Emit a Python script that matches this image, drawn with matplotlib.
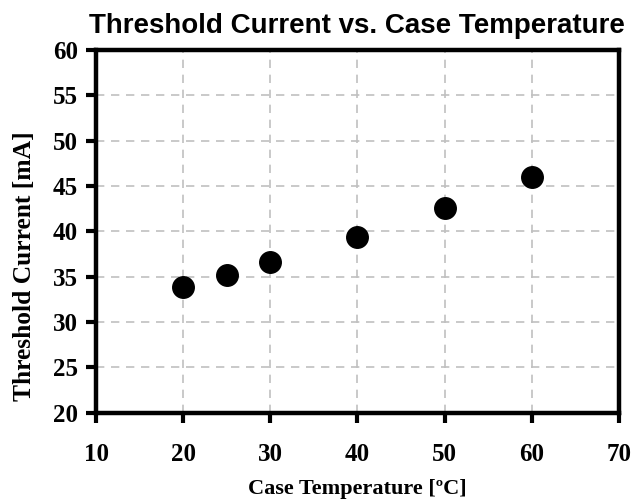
import matplotlib
matplotlib.use('Agg')
import matplotlib.pyplot as plt
from matplotlib.font_manager import FontProperties

# 数据
temperature = [20, 25, 30, 40, 50, 60]
threshold_current = [33.9, 35.2, 36.6, 39.4, 42.6, 46.0]
x_ticks = [10, 20, 30, 40, 50, 60, 70]
y_ticks = [20, 25, 30, 35, 40, 45, 50, 55, 60]

fig = plt.figure(figsize=(6.32, 5.04), dpi=100)
ax = fig.add_axes([0.152, 0.181, 0.827, 0.72])

# 散点
ax.plot(temperature, threshold_current, 'o', color='black', markersize=15.5, zorder=3)

ax.set_xlim(10, 70)
ax.set_ylim(20, 60)
ax.set_xticks(x_ticks)
ax.set_yticks(y_ticks)

# 网格（虚线）
ax.grid(True, linestyle=(0, (5, 4)), color='#c0c0c0', linewidth=1.2)
ax.set_axisbelow(True)

for s in ax.spines.values():
    s.set_linewidth(3.2)
ax.tick_params(direction='out', length=7, width=3)
ax.tick_params(axis='x', pad=15)
ax.tick_params(axis='y', pad=6)

tick_font = FontProperties(family='Liberation Serif', weight='bold', size=18)
for lbl in ax.get_xticklabels() + ax.get_yticklabels():
    lbl.set_fontproperties(tick_font)

ax.set_xlabel('Case Temperature [ºC]', family='Liberation Serif', weight='bold',
              fontsize=16, labelpad=9)
ax.set_ylabel('Threshold Current [mA]', family='Liberation Serif', weight='bold',
              fontsize=18.4)
ax.yaxis.set_label_coords(-0.115, 0.405)
ax.set_title('Threshold Current vs. Case Temperature', family='Liberation Sans',
             weight='bold', fontsize=20, pad=12.5)

plt.savefig('out.png', dpi=100)
